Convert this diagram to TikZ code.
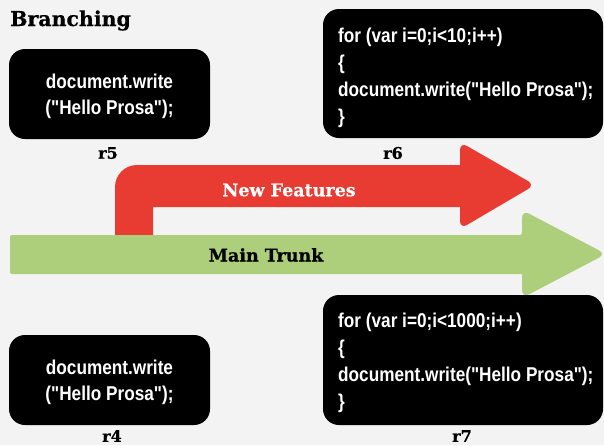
\documentclass[tikz,border=0pt]{standalone}
\usepackage{fontspec}
\newfontfamily\codefont{Liberation Sans}[FakeStretch=0.86]
\newfontfamily\slabfont{DejaVu Serif}[FakeBold=0.6]
\definecolor{bg}{HTML}{F3F3F3}
\definecolor{featred}{HTML}{E83C33}
\definecolor{trunkgreen}{HTML}{ADCF7B}
\tikzset{
  codebox/.style={fill=black, rounded corners=16pt},
  codetext/.style={text=white, inner sep=0pt, align=left, font=\codefont\bfseries\fontsize{20pt}{27pt}\selectfont},
  codetextc/.style={text=white, inner sep=0pt, align=center, font=\codefont\bfseries\fontsize{20pt}{26pt}\selectfont},
  revlabel/.style={inner sep=0pt, font=\slabfont\bfseries\fontsize{16pt}{18pt}\selectfont},
  arrowlabel/.style={inner sep=0pt, font=\slabfont\bfseries\fontsize{17.5pt}{19pt}\selectfont},
}
\begin{document}
\begin{tikzpicture}[x=1pt,y=-1pt]
\fill[bg] (0,0) rectangle (604,445);
\useasboundingbox (0,0) rectangle (604,445);
% title
\node[anchor=base west, inner sep=0pt, font=\slabfont\bfseries\fontsize{20.5pt}{22pt}\selectfont] (title) at (10,26) {Branching};
% boxes
\fill[codebox] (9,49) rectangle (210,139);
\node[codetextc] (t5) at (109.5,96) {document.write\\("Hello Prosa");};
\node[revlabel] (r5) at (108,153) {r5};
\fill[codebox] (323,9) rectangle (603,138);
\node[codetext, anchor=west] (t6) at (338,78) {for (var i=0;i<10;i++)\\\{\\document.write("Hello Prosa");\\\}};
\node[revlabel] (r6) at (393,153) {r6};
\fill[codebox] (9,335) rectangle (210,425);
\node[codetextc] (t4) at (109.5,382) {document.write\\("Hello Prosa");};
\node[revlabel] (r4) at (112,436) {r4};
\fill[codebox] (323,295) rectangle (603,425);
\node[codetext, anchor=west] (t7) at (338,363) {for (var i=0;i<1000;i++)\\\{\\document.write("Hello Prosa");\\\}};
\node[revlabel] (r7) at (462,436) {r7};
% red arrow
\fill[featred] (115,240) [rounded corners=22pt] -- (115,165) [rounded corners=0pt] -- (460,165)
  [rounded corners=8pt] -- (460,142) -- (535,185) -- (460,229) [rounded corners=0pt] -- (460,207) -- (153,207) -- (153,240) -- cycle;
\node[arrowlabel, text=white] (nf) at (289,190) {New Features};
% green arrow
\fill[trunkgreen] [rounded corners=2pt] (10,235) -- (522,235) [rounded corners=8pt] -- (522,210) -- (606,254) -- (522,298) [rounded corners=0pt] -- (522,274) [rounded corners=2pt] -- (10,274) -- cycle;
\node[arrowlabel, text=black] (mt) at (266,255) {Main Trunk};
\end{tikzpicture}
\end{document}
